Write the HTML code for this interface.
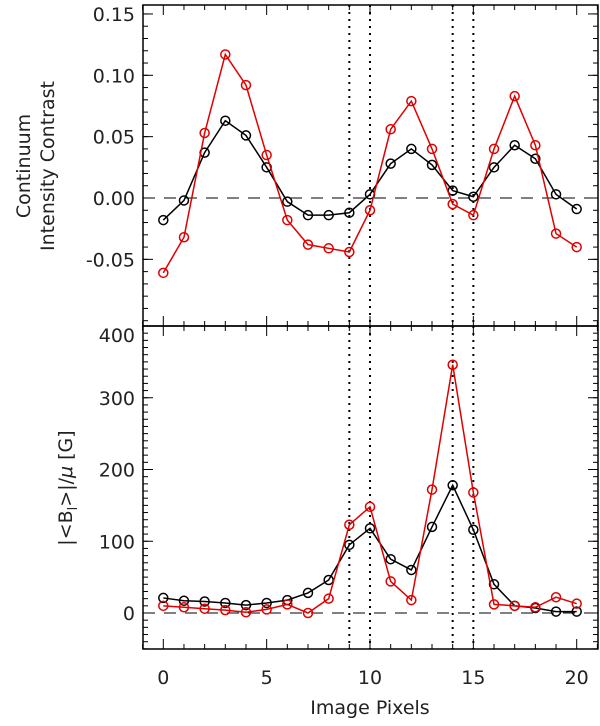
<!DOCTYPE html>
<html><head><meta charset="utf-8"><style>
body{margin:0;background:#fff;}
svg text{font-family:"DejaVu Sans","Liberation Sans",sans-serif;fill:#222;}
</style></head><body>
<svg id="c" width="600" height="721" xmlns="http://www.w3.org/2000/svg"></svg>
<script>
const pixels=[0,1,2,3,4,5,6,7,8,9,10,11,12,13,14,15,16,17,18,19,20];
const contrastBlack=[-0.018,-0.002,0.037,0.063,0.051,0.025,-0.003,-0.014,-0.014,-0.012,0.003,0.028,0.040,0.027,0.006,0.001,0.025,0.043,0.032,0.003,-0.009];
const contrastRed=[-0.061,-0.032,0.053,0.117,0.092,0.035,-0.018,-0.038,-0.041,-0.044,-0.010,0.056,0.079,0.040,-0.005,-0.014,0.040,0.083,0.043,-0.029,-0.040];
const fieldBlack=[21,17,16,14,11,14,18,28,46,95,118,75,60,120,178,116,40,10,7,2,2];
const fieldRed=[10,8,6,4,1,5,12,0,20,123,148,44,18,172,346,168,12,10,8,22,13];
const markerLines=[9,10,14,15];
const xTicks=[0,5,10,15,20];
const topTicks=[-0.05,0,0.05,0.10,0.15];
const topTickLabels=["-0.05","0.00","0.05","0.10","0.15"];
const botTicks=[0,100,200,300,400];

const NS="http://www.w3.org/2000/svg";
const svg=document.getElementById('c');
function el(t,a,p){const e=document.createElementNS(NS,t);for(const k in a)e.setAttribute(k,a[k]);(p||svg).appendChild(e);return e;}
const L=143,R=598;
const X=v=>163.3+v*20.67;
const topY=v=>198-v*1227;
const botY=v=>613-v*0.7175;
const T0=5,T1=326,B1=649;

function panel(name,yTop,yBot,Y,ticks,labels,minorStep,minorFrom,minorTo){
  const g=el('g',{});
  
  
  el('rect',{x:L,y:yTop,width:R-L,height:yBot-yTop,fill:'none',stroke:'#000','stroke-width':1.5},g);
  for(let v=minorFrom;v<=minorTo+1e-9;v+=minorStep){const y=Y(v);if(y<yTop-0.5||y>yBot+0.5)continue;
    el('line',{x1:L,x2:L+5,y1:y,y2:y,stroke:'#000'},g);el('line',{x1:R,x2:R-5,y1:y,y2:y,stroke:'#000'},g);}
  ticks.forEach((v,i)=>{const y=Y(v);
    el('line',{x1:L,x2:L+10,y1:y,y2:y,stroke:'#000'},g);el('line',{x1:R,x2:R-10,y1:y,y2:y,stroke:'#000'},g);
    let ly=Y(v)+7; if(Math.abs(y-yTop)<3) ly+=9;
    const t=el('text',{x:L-8,y:ly,'text-anchor':'end','font-size':19},g);t.textContent=labels[i];
    
    });
  for(let v=-1;v<=21;v++){const x=X(v);const big=xTicks.includes(v);
    el('line',{x1:x,x2:x,y1:yBot,y2:yBot-(big?10:5),stroke:'#000'},g);
    el('line',{x1:x,x2:x,y1:yTop,y2:yTop+(big?10:5),stroke:'#000'},g);}
  el('line',{x1:L,x2:R,y1:Y(0),y2:Y(0),stroke:'#000','stroke-dasharray':'12,9'},g);
  markerLines.forEach(m=>{const l=el('line',{x1:X(m),x2:X(m),y1:yTop,y2:yBot,stroke:'#000','stroke-width':2,'stroke-dasharray':'2,5'},g);
    
    });
  return g;
}
function series(g,vals,Y,col,name){
  const pts=vals.map((v,i)=>X(pixels[i])+','+Y(v)).join(' ');
  const pl=el('polyline',{points:pts,fill:'none',stroke:col,'stroke-width':1.5},g);
  
  
  vals.forEach((v,i)=>{const c=el('circle',{cx:X(pixels[i]),cy:Y(v),r:4.5,fill:'none',stroke:col,'stroke-width':1.5},g);
    
    });
}
const gt=panel('top-panel',T0,T1,topY,topTicks,topTickLabels,0.01,-0.1,0.16);
series(gt,contrastBlack,topY,'#000','contrast-black');
series(gt,contrastRed,topY,'#e00000','contrast-red');
const gb=panel('bottom-panel',T1,B1,botY,botTicks,botTicks.map(String),10,-50,400);
series(gb,fieldBlack,botY,'#000','field-black');
series(gb,fieldRed,botY,'#e00000','field-red');
xTicks.forEach(v=>{const t=el('text',{x:X(v),y:684,'text-anchor':'middle','font-size':19});t.textContent=v;
  
  });
let t=el('text',{x:370,y:714,'text-anchor':'middle','font-size':19});t.textContent='Image Pixels';


t=el('text',{transform:'translate(30,166) rotate(-90)','text-anchor':'middle','font-size':19});
t.innerHTML='<tspan x="0" dy="0">Continuum</tspan><tspan x="0" dy="24">Intensity Contrast</tspan>';


t=el('text',{transform:'translate(72,488) rotate(-90)','text-anchor':'middle','font-size':19});
t.innerHTML='|&lt;B<tspan font-size="13" dy="5">l</tspan><tspan dy="-5">&gt;|/</tspan><tspan font-style="italic">μ</tspan> [G]';


</script>
</body></html>
